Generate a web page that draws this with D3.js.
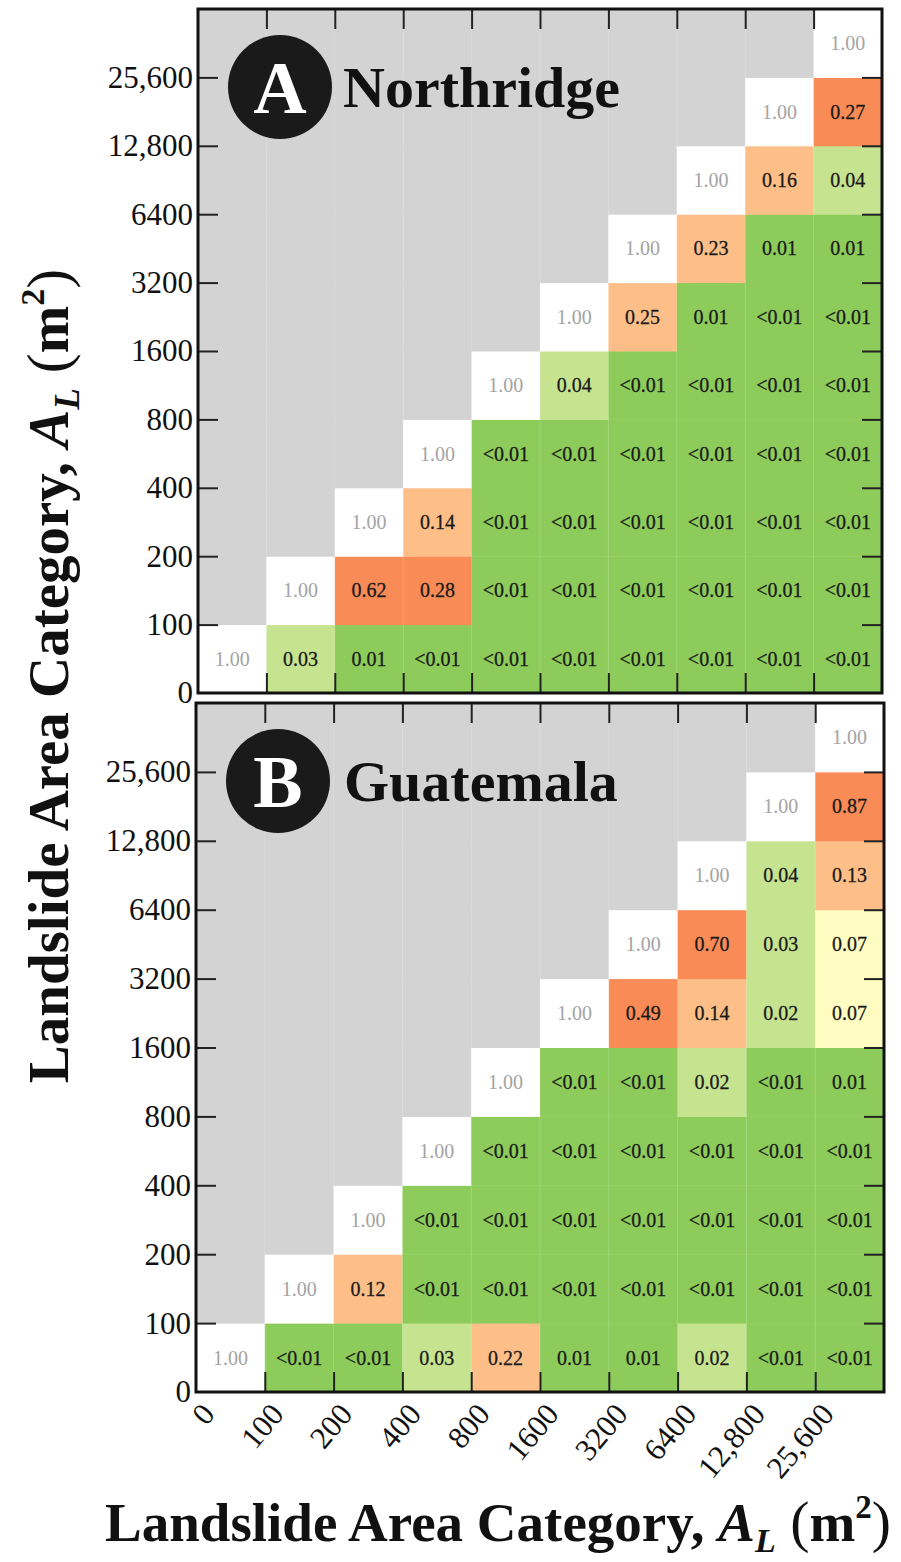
<!DOCTYPE html>
<html><head><meta charset="utf-8">
<script src="https://cdn.jsdelivr.net/npm/d3@7"></script>
<style>body{margin:0;background:#fff}svg{display:block}</style>
</head><body>
<script>
const categories = ["0","100","200","400","800","1600","3200","6400","12,800","25,600"];
// rows from the bottom (y category), columns = x category; null = grey (not computed)
const northridge = [
  ["1.00","0.03","0.01","<0.01","<0.01","<0.01","<0.01","<0.01","<0.01","<0.01"],
  [null,"1.00","0.62","0.28","<0.01","<0.01","<0.01","<0.01","<0.01","<0.01"],
  [null,null,"1.00","0.14","<0.01","<0.01","<0.01","<0.01","<0.01","<0.01"],
  [null,null,null,"1.00","<0.01","<0.01","<0.01","<0.01","<0.01","<0.01"],
  [null,null,null,null,"1.00","0.04","<0.01","<0.01","<0.01","<0.01"],
  [null,null,null,null,null,"1.00","0.25","0.01","<0.01","<0.01"],
  [null,null,null,null,null,null,"1.00","0.23","0.01","0.01"],
  [null,null,null,null,null,null,null,"1.00","0.16","0.04"],
  [null,null,null,null,null,null,null,null,"1.00","0.27"],
  [null,null,null,null,null,null,null,null,null,"1.00"]
];
const guatemala = [
  ["1.00","<0.01","<0.01","0.03","0.22","0.01","0.01","0.02","<0.01","<0.01"],
  [null,"1.00","0.12","<0.01","<0.01","<0.01","<0.01","<0.01","<0.01","<0.01"],
  [null,null,"1.00","<0.01","<0.01","<0.01","<0.01","<0.01","<0.01","<0.01"],
  [null,null,null,"1.00","<0.01","<0.01","<0.01","<0.01","<0.01","<0.01"],
  [null,null,null,null,"1.00","<0.01","<0.01","0.02","<0.01","0.01"],
  [null,null,null,null,null,"1.00","0.49","0.14","0.02","0.07"],
  [null,null,null,null,null,null,"1.00","0.70","0.03","0.07"],
  [null,null,null,null,null,null,null,"1.00","0.04","0.13"],
  [null,null,null,null,null,null,null,null,"1.00","0.87"],
  [null,null,null,null,null,null,null,null,null,"1.00"]
];
const panels = [
  {letter:"A", name:"Northridge", data:northridge},
  {letter:"B", name:"Guatemala", data:guatemala}
];

const W = 901, H = 1562;
const svg = d3.select("body").append("svg").attr("width", W).attr("height", H);
const serif = "'Liberation Serif','Times New Roman',serif";

const boxes = [
  {x0:198, x1:882, y0:9, y1:693},
  {x0:196, x1:884, y0:703, y1:1392}
];

const color = d3.scaleThreshold()
  .domain([0.015, 0.05, 0.1, 0.26])
  .range(["#8dcc5a", "#c6e490", "#fefcc0", "#fdbe88", "#f98b56"]);
const num = s => s.startsWith("<") ? 0.005 : +s;

panels.forEach((p, pi) => {
  const b = boxes[pi];
  const g = svg.append("g");
  const xb = d3.scaleBand().domain(d3.range(10)).range([b.x0, b.x1]);
  const yb = d3.scaleBand().domain(d3.range(10)).range([b.y1, b.y0]);
  const xl = d3.scaleLinear().domain([0,10]).range([b.x0, b.x1]);
  const yl = d3.scaleLinear().domain([0,10]).range([b.y1, b.y0]);

  const cells = [];
  p.data.forEach((row, r) => row.forEach((v, c) => cells.push({r, c, v})));

  g.selectAll("rect.cell").data(cells).join("rect")
    .attr("x", d => xb(d.c)).attr("y", d => yb(d.r))
    .attr("width", xb.bandwidth() + 0.5).attr("height", yb.bandwidth() + 0.5)
    .attr("fill", d => d.v === null ? "#d3d3d3" : (d.r === d.c ? "#ffffff" : color(num(d.v))));

  // faint column lines
  g.selectAll("line.grid").data(d3.range(1,10)).join("line")
    .attr("x1", d => xl(d)).attr("x2", d => xl(d))
    .attr("y1", b.y0).attr("y2", b.y1)
    .attr("stroke", "#ffffff").attr("stroke-opacity", 0.18).attr("stroke-width", 1);

  g.selectAll("text.val").data(cells.filter(d => d.v !== null)).join("text")
    .attr("x", d => xb(d.c) + xb.bandwidth()/2)
    .attr("y", d => yb(d.r) + yb.bandwidth()/2)
    .attr("dy", "0.35em")
    .attr("text-anchor", "middle")
    .attr("font-family", serif)
    .attr("font-size", 20)
    .attr("stroke", d => d.r === d.c ? "none" : "#1c1c1c")
    .attr("stroke-width", 0.3)
    .attr("fill", d => d.r === d.c ? "#a3a3a3" : "#1a1a1a")
    .text(d => d.v);

  const inner = d3.range(1,10);
  const styleAxis = sel => {
    sel.select(".domain").remove();
    sel.selectAll(".tick line").attr("stroke", "#222").attr("stroke-width", 2);
  };
  // left axis with labels
  g.append("g").attr("transform", `translate(${b.x0},0)`)
    .call(d3.axisLeft(yl).tickValues(d3.range(0,10)).tickFormat(i => categories[i])
      .tickSizeInner(-20).tickSizeOuter(0).tickPadding(5))
    .call(styleAxis)
    .call(a => { a.selectAll(".tick").filter(d => d === 0).select("line").remove();
      a.selectAll("text").attr("font-family", serif).attr("font-size", 31).attr("fill", "#111"); });
  g.append("g").attr("transform", `translate(${b.x1},0)`)
    .call(d3.axisRight(yl).tickValues(inner).tickFormat("").tickSizeInner(-20).tickSizeOuter(0))
    .call(styleAxis);
  g.append("g").attr("transform", `translate(0,${b.y0})`)
    .call(d3.axisTop(xl).tickValues(inner).tickFormat("").tickSizeInner(-20).tickSizeOuter(0))
    .call(styleAxis);
  g.append("g").attr("transform", `translate(0,${b.y1})`)
    .call(d3.axisBottom(xl).tickValues(inner).tickFormat("").tickSizeInner(-20).tickSizeOuter(0))
    .call(styleAxis);

  g.append("rect").attr("x", b.x0).attr("y", b.y0)
    .attr("width", b.x1 - b.x0).attr("height", b.y1 - b.y0)
    .attr("fill", "none").attr("stroke", "#111").attr("stroke-width", 3);

  // panel label
  const cx = b.x0 + 82, cy = b.y0 + 78;
  g.append("circle").attr("cx", cx).attr("cy", cy).attr("r", 52).attr("fill", "#1a1a1a");
  g.append("text").attr("x", cx).attr("y", cy + 26).attr("text-anchor", "middle")
    .attr("font-family", serif).attr("font-weight", "bold").attr("font-size", 74)
    .attr("fill", "#fff").text(p.letter);
  g.append("text").attr("x", b.x0 + 145 + (pi === 1 ? 3 : 0)).attr("y", cy + 20)
    .attr("font-family", serif).attr("font-weight", "bold").attr("font-size", 58)
    .attr("fill", "#111").text(p.name);

  if (pi === 1) {
    g.selectAll("text.xlab").data(d3.range(0,10)).join("text")
      .attr("transform", d => `translate(${xl(d) + 12},${b.y1 + 16}) rotate(-50)`)
      .attr("text-anchor", "end").attr("dy", "0.35em")
      .attr("font-family", serif).attr("font-size", 31).attr("fill", "#111")
      .text(d => categories[d]);
  }
});

function title(sel, size) {
  sel.attr("font-family", serif).attr("font-weight", "bold").attr("font-size", size).attr("fill", "#111");
  sel.append("tspan").text("Landslide Area Category,  ");
  sel.append("tspan").attr("font-style", "italic").text("A");
  sel.append("tspan").attr("font-style", "italic").attr("font-size", size*0.62).attr("dy", size*0.2).text("L");
  sel.append("tspan").attr("dy", -size*0.2).attr("font-weight", "normal").attr("font-size", size*1.05).text(" (");
  sel.append("tspan").text("m");
  sel.append("tspan").attr("font-size", size*0.6).attr("dy", -size*0.42).text("2");
  sel.append("tspan").attr("dy", size*0.42).attr("font-weight", "normal").attr("font-size", size*1.05).text(")");
}
svg.append("text").attr("transform", "translate(68,676) rotate(-90)").attr("text-anchor", "middle").call(title, 57);
svg.append("text").attr("x", 498).attr("y", 1541).attr("text-anchor", "middle").call(title, 55);
</script>
</body></html>
